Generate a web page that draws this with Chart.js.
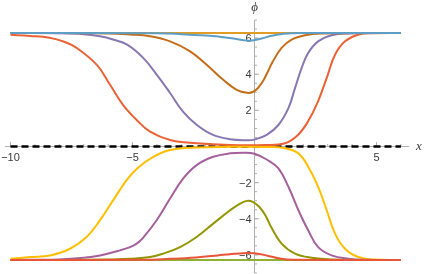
<!DOCTYPE html>
<html><head><meta charset="utf-8">
<script src="https://cdn.jsdelivr.net/npm/chart.js@4.4.1/dist/chart.umd.min.js"></script>
<style>html,body{margin:0;padding:0;background:#fff;overflow:hidden}</style>
</head><body>
<canvas id="c" width="425" height="274"></canvas>
<script>
// ---- tick labels ----
const xTicks = [-10, -5, 5];
const yTicks = [-6, -4, -2, 2, 4, 6];
const xMinorTicks = [-10,-9,-8,-7,-6,-5,-4,-3,-2,-1,1,2,3,4,5,6];
const yMinorTicks = [-7,-6.5,-6,-5.5,-5,-4.5,-4,-3.5,-3,-2.5,-2,-1.5,-1,-0.5,0.5,1,1.5,2,2.5,3,3.5,4,4.5,5,5.5,6,6.5,7];
const xLabel = 'x';
const yLabel = 'ϕ';

// ---- series values (x, φ) ----
const flatTop = [[-10,6.283],[6,6.283]];
const flatBottom = [[-10,-6.283],[6,-6.283]];
const upperWide = [[-10,6.18],[-9.2,6.12],[-8.4,6.02],[-7.8,5.8],[-7.29,5.46],[-6.47,4.53],[-5.92,3.42],[-5.39,2.31],[-4.83,1.47],[-4.28,0.82],[-3.46,0.36],[-2.37,0.18],[-1,0.08],[0.43,0.08],[1.25,0.18],[1.78,0.64],[2.19,1.38],[2.6,2.49],[2.96,3.8],[3.3,5.08],[3.71,5.82],[4.24,6.19],[4.94,6.27],[6,6.283]];
const upperPurple = [[-10,6.283],[-8,6.27],[-7,6.22],[-6.33,6.1],[-5.8,5.92],[-5.22,5.64],[-4.57,4.92],[-4.0,3.97],[-3.46,2.96],[-2.93,1.93],[-2.36,1.19],[-1.7,0.64],[-1,0.4],[-0.35,0.35],[0,0.38],[0.5,0.64],[0.98,1.19],[1.39,2.12],[1.66,3.23],[1.93,4.34],[2.2,5.18],[2.61,5.82],[3.16,6.16],[3.83,6.26],[6,6.283]];
const upperBrown = [[-10,6.283],[-6,6.26],[-5.1,6.2],[-4.28,6.1],[-3.46,5.82],[-2.64,5.27],[-1.96,4.53],[-1.28,3.69],[-0.73,3.14],[-0.3,2.97],[-0.05,3.03],[0.15,3.25],[0.35,3.62],[0.55,4.15],[0.75,4.7],[1.11,5.46],[1.52,5.92],[2.07,6.16],[2.75,6.25],[6,6.283]];
const upperBlue = [[-10,6.283],[-4,6.27],[-3,6.22],[-2,6.14],[-1.2,6.04],[-0.5,5.9],[-0.2,5.85],[0.3,5.98],[0.7,6.13],[1.2,6.24],[2,6.28],[6,6.283]];
const lowerYellow = [[-10,-6.22],[-9.2,-6.12],[-8.38,-6.03],[-7.56,-5.66],[-6.88,-5.01],[-6.33,-4.08],[-5.79,-2.97],[-5.24,-1.86],[-4.8,-1.2],[-4.15,-0.57],[-3.46,-0.19],[-2.37,-0.05],[-1,-0.02],[0.5,-0.03],[1.25,-0.1],[1.8,-0.38],[2.2,-1.12],[2.61,-2.23],[2.96,-3.53],[3.3,-4.82],[3.71,-5.66],[4.25,-6.12],[4.94,-6.26],[6,-6.283]];
const lowerMagenta = [[-10,-6.283],[-8,-6.25],[-7,-6.16],[-6.33,-6.03],[-5.51,-5.75],[-5.1,-5.57],[-4.83,-5.38],[-4.56,-5.04],[-4.01,-4.08],[-3.46,-2.88],[-2.92,-1.77],[-2.37,-1.03],[-1.69,-0.57],[-1,-0.38],[-0.4,-0.34],[0,-0.4],[0.5,-0.72],[0.98,-1.21],[1.39,-2.23],[1.8,-3.53],[2.2,-4.64],[2.61,-5.57],[3.16,-6.03],[3.84,-6.21],[4.6,-6.27],[6,-6.283]];
const lowerOlive = [[-10,-6.283],[-6,-6.26],[-5.1,-6.21],[-4.28,-6.12],[-3.74,-5.93],[-3.05,-5.57],[-2.37,-5.01],[-1.69,-4.27],[-1,-3.53],[-0.59,-3.16],[-0.3,-3.01],[-0.05,-3.08],[0.2,-3.35],[0.45,-3.82],[0.7,-4.5],[1.11,-5.38],[1.66,-5.93],[2.34,-6.16],[3.16,-6.25],[6,-6.283]];
const lowerRed = [[-10,-6.283],[-4.5,-6.27],[-3.5,-6.22],[-2.4,-6.14],[-1.5,-6.03],[-1,-5.96],[-0.3,-5.9],[0,-5.91],[0.5,-6.03],[1.1,-6.22],[1.6,-6.27],[6,-6.283]];
const zeroLine = [[-10,0],[6,0]];

// drawing order as in the original (later series on top)
const seriesList = [
  {pts: flatTop, color: '#E19C24'},
  {pts: flatBottom, color: '#8FB032'},
  {pts: upperWide, color: '#EB6235'},
  {pts: upperPurple, color: '#8778B3'},
  {pts: upperBrown, color: '#C56E1A'},
  {pts: upperBlue, color: '#5D9EC7'},
  {pts: lowerYellow, color: '#FFBF00'},
  {pts: lowerMagenta, color: '#A5609D'},
  {pts: lowerOlive, color: '#929600'},
  {pts: lowerRed, color: '#E95536'}
];

const toXY = a => a.map(p => ({x: p[0], y: p[1]}));
const n = seriesList.length;
const datasets = [{
  data: toXY(zeroLine), borderColor: '#000', borderWidth: 2.6, borderDash: [7, 4],
  pointRadius: 0, fill: false, order: n + 5
}].concat(seriesList.map((s, i) => ({
  data: toXY(s.pts), borderColor: s.color, borderWidth: 2, pointRadius: 0,
  fill: false, tension: 0.4, order: n - i
})));

const axesPlugin = {
  id: 'centerAxes',
  beforeDatasetsDraw(chart) {
    const ctx = chart.ctx, xs = chart.scales.x, ys = chart.scales.y;
    const ca = chart.chartArea;
    const x0 = xs.getPixelForValue(0), y0 = ys.getPixelForValue(0);
    ctx.save();
    ctx.strokeStyle = '#b0b0b0';
    ctx.lineWidth = 1;
    ctx.beginPath();
    ctx.moveTo(ca.left, y0); ctx.lineTo(ca.right, y0);
    ctx.moveTo(x0, ca.top); ctx.lineTo(x0, ca.bottom);
    ctx.stroke();
    ctx.beginPath();
    xMinorTicks.forEach(v => { const p = xs.getPixelForValue(v); ctx.moveTo(p, y0); ctx.lineTo(p, y0 - 2.5); });
    xTicks.forEach(v => { const p = xs.getPixelForValue(v); ctx.moveTo(p, y0); ctx.lineTo(p, y0 - 4.5); });
    yMinorTicks.forEach(v => { const p = ys.getPixelForValue(v); ctx.moveTo(x0, p); ctx.lineTo(x0 + 2.5, p); });
    yTicks.forEach(v => { const p = ys.getPixelForValue(v); ctx.moveTo(x0, p); ctx.lineTo(x0 + 4.5, p); });
    ctx.stroke();
    ctx.fillStyle = '#3a3a3a';
    ctx.font = '11px "Liberation Sans", Arial, sans-serif';
    ctx.textAlign = 'center'; ctx.textBaseline = 'middle';
    const fmt = v => (v < 0 ? '\u2212' + Math.abs(v) : String(v));
    xTicks.forEach(v => ctx.fillText(fmt(v), xs.getPixelForValue(v), y0 + 11));
    ctx.textAlign = 'right';
    yTicks.forEach(v => ctx.fillText(fmt(v), x0 - 3, ys.getPixelForValue(v) + 1));
    ctx.font = 'italic 13px "Liberation Serif", "Times New Roman", serif';
    ctx.textAlign = 'center';
    ctx.fillText(xLabel, 419, y0 + 0.5);
    ctx.fillText(yLabel, x0, 8);
    ctx.restore();
  }
};

new Chart(document.getElementById('c'), {
  type: 'line',
  data: {datasets},
  options: {
    responsive: false, animation: false, devicePixelRatio: 1,
    layout: {padding: {left: 5, right: 16, top: 20, bottom: 1}},
    plugins: {legend: {display: false}, tooltip: {enabled: false}},
    scales: {
      x: {type: 'linear', min: -10.225, max: 6.332, display: false},
      y: {type: 'linear', min: -7.003, max: 7.003, display: false}
    }
  },
  plugins: [axesPlugin]
});
</script>
</body></html>
